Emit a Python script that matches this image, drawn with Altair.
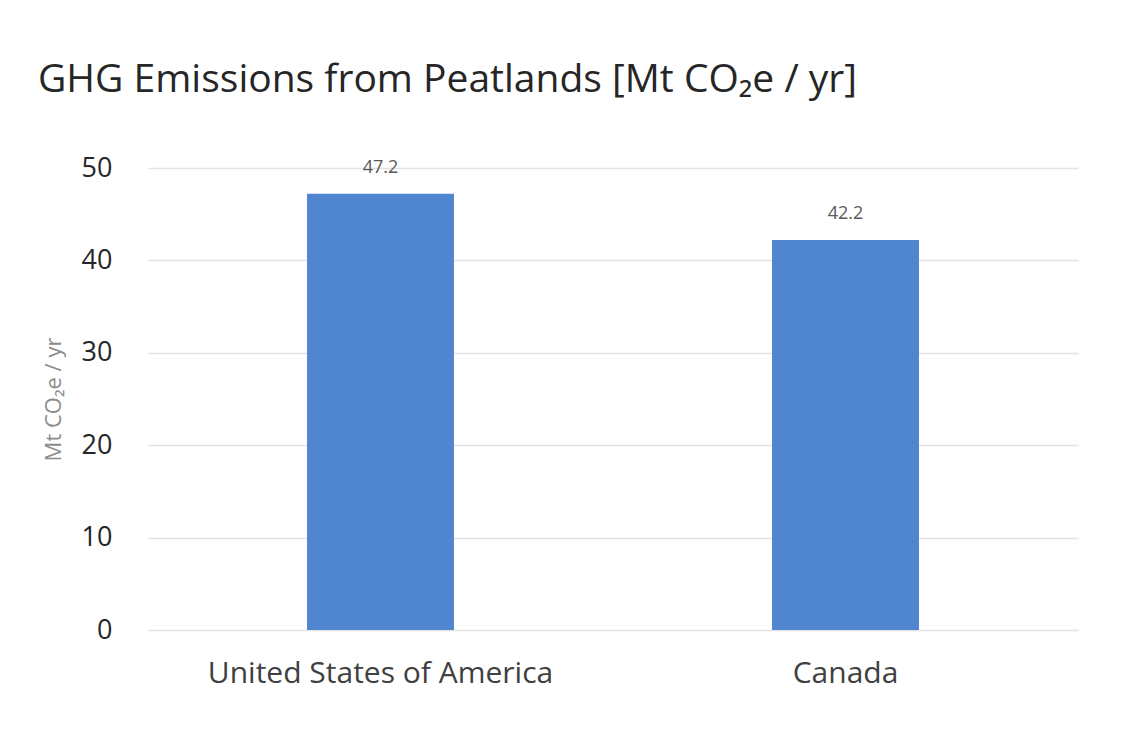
import altair as alt
import pandas as pd

countries = ["United States of America", "Canada"]
emissions = [47.2, 42.2]

df = pd.DataFrame({"country": countries, "value": emissions})
FONT = "Open Sans"

base = alt.Chart(df).encode(
    x=alt.X("country:N", sort=countries,
            scale=alt.Scale(paddingInner=0.684, paddingOuter=0.342),
            axis=alt.Axis(title=None, labelAngle=0, labelFontSize=30, labelColor="#404040",
                          labelPadding=28, labelLimit=0, domain=False, ticks=False,
                          grid=False, labelFont=FONT)),
    y=alt.Y("value:Q", scale=alt.Scale(domain=[0, 50]),
            axis=alt.Axis(title="Mt CO₂e / yr", values=[0, 10, 20, 30, 40, 50],
                          labelFontSize=27, labelColor="#262626", labelPadding=36,
                          titleFontSize=22, titleColor="#8c8c8c", titleFontWeight="normal",
                          titlePadding=16, titleFont=FONT, labelFont=FONT,
                          domain=False, ticks=False, gridColor="#e3e3e3", gridWidth=1.3)),
)

bars = base.mark_bar(color="#5085d0")
text = base.mark_text(dy=-17, baseline="bottom", fontSize=18, color="#595959", font=FONT).encode(
    text=alt.Text("value:Q", format=".1f"))

chart = (bars + text).properties(
    width=930, height=462,
    padding={"left": 140, "top": 160, "right": 51, "bottom": 85},
    autosize=alt.AutoSizeParams(type="none"),
    view=alt.ViewBackground(strokeOpacity=0, strokeWidth=0),
    title=alt.TitleParams("GHG Emissions from Peatlands [Mt CO₂e / yr]", anchor="start",
                          frame="group", dx=-110, offset=23, baseline="alphabetic",
                          fontSize=39, font=FONT, fontWeight="normal", color="#262626"),
).configure_view(strokeWidth=0, strokeOpacity=0).configure(background="white")

chart.save("out.html", embed_options={"renderer": "svg", "actions": False})
